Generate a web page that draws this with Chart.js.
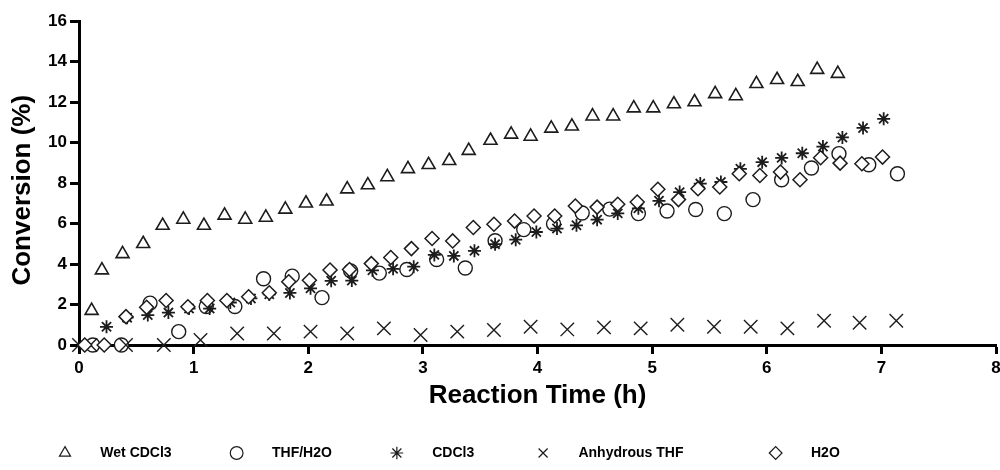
<!DOCTYPE html>
<html>
<head>
<meta charset="utf-8">
<script src="https://cdn.jsdelivr.net/npm/chart.js@4.4.0/dist/chart.umd.min.js"></script>
<style>
    html, body { margin: 0; padding: 0; background: #fff; }
    #wrap { width: 1000px; height: 470px; }
</style>
</head>
<body>
<div id="wrap"><canvas id="conversionChart"></canvas></div>
<script>
// series names (legend order)
const seriesNames = ['Wet CDCl3', 'THF/H2O', 'CDCl3', 'Anhydrous THF', 'H2O'];

// Wet CDCl3
const wetTime = [0.11, 0.20, 0.38, 0.56, 0.73, 0.91, 1.09, 1.27, 1.45, 1.63, 1.80, 1.98, 2.16, 2.34, 2.52, 2.69, 2.87, 3.05, 3.23, 3.40,
                 3.59, 3.77, 3.94, 4.12, 4.30, 4.48, 4.66, 4.84, 5.01, 5.19, 5.37, 5.55, 5.73, 5.91, 6.09, 6.27, 6.44, 6.62];
const wetConv = [1.7, 3.7, 4.5, 5.0, 5.9, 6.2, 5.9, 6.4, 6.2, 6.3, 6.7, 7.0, 7.1, 7.7, 7.9, 8.3, 8.7, 8.9, 9.1, 9.6,
                 10.1, 10.4, 10.3, 10.7, 10.8, 11.3, 11.3, 11.7, 11.7, 11.9, 12.0, 12.4, 12.3, 12.9, 13.1, 13.0, 13.6, 13.4];

// THF/H2O
const thfTime = [0.12, 0.37, 0.62, 0.87, 1.11, 1.36, 1.61, 1.86, 2.12, 2.37, 2.62, 2.86, 3.12, 3.37, 3.63, 3.88, 4.14, 4.39, 4.63, 4.88,
                 5.13, 5.38, 5.63, 5.88, 6.13, 6.39, 6.63, 6.89, 7.14];
const thfConv = [0, 0, 2.07, 0.66, 1.9, 1.9, 3.27, 3.4, 2.34, 3.66, 3.55, 3.73, 4.22, 3.8, 5.15, 5.7, 5.98, 6.52, 6.71, 6.49,
                 6.62, 6.69, 6.49, 7.18, 8.16, 8.74, 9.45, 8.9, 8.46];

// CDCl3
const cdclTime = [0.24, 0.42, 0.60, 0.78, 0.96, 1.14, 1.32, 1.50, 1.66, 1.84, 2.02, 2.20, 2.38, 2.56, 2.74, 2.92, 3.10, 3.27, 3.45, 3.63,
                  3.81, 3.99, 4.17, 4.34, 4.52, 4.70, 4.88, 5.06, 5.24, 5.42, 5.60, 5.77, 5.96, 6.13, 6.31, 6.49, 6.66, 6.84, 7.02];
const cdclConv = [0.9, 1.35, 1.48, 1.6, 1.8, 1.8, 2.1, 2.3, 2.5, 2.57, 2.8, 3.17, 3.18, 3.69, 3.76, 3.87, 4.45, 4.4, 4.65, 4.98,
                  5.2, 5.58, 5.75, 5.91, 6.19, 6.5, 6.75, 7.12, 7.55, 7.97, 8.05, 8.7, 9.03, 9.24, 9.47, 9.8, 10.25, 10.72, 11.17];

// Anhydrous THF
const anhTime = [0, 0.10, 0.41, 0.74, 1.06, 1.38, 1.70, 2.02, 2.34, 2.66, 2.98, 3.30, 3.62, 3.94, 4.26, 4.58, 4.90, 5.22, 5.54, 5.86,
                 6.18, 6.50, 6.81, 7.13];
const anhConv = [0, 0, 0, 0, 0.25, 0.57, 0.57, 0.66, 0.57, 0.82, 0.49, 0.66, 0.74, 0.9, 0.77, 0.87, 0.82, 1.0, 0.9, 0.9,
                 0.82, 1.2, 1.1, 1.2];

// H2O
const h2oTime = [0.05, 0.22, 0.41, 0.59, 0.76, 0.95, 1.12, 1.29, 1.48, 1.66, 1.83, 2.01, 2.19, 2.36, 2.55, 2.72, 2.90, 3.08, 3.26, 3.44,
                 3.62, 3.80, 3.97, 4.15, 4.33, 4.52, 4.70, 4.87, 5.05, 5.23, 5.40, 5.59, 5.76, 5.94, 6.12, 6.29, 6.47, 6.64, 6.83, 7.01];
const h2oConv = [0, 0, 1.4, 1.86, 2.2, 1.89, 2.2, 2.2, 2.38, 2.58, 3.12, 3.2, 3.7, 3.73, 4.02, 4.32, 4.76, 5.26, 5.14, 5.8,
                 5.96, 6.12, 6.37, 6.37, 6.86, 6.81, 6.95, 7.06, 7.69, 7.18, 7.72, 7.8, 8.46, 8.37, 8.54, 8.16, 9.25, 8.98, 8.95, 9.28];

// tick labels
const xTickValues = [0, 1, 2, 3, 4, 5, 6, 7, 8];
const yTickValues = [0, 2, 4, 6, 8, 10, 12, 14, 16];

const ink = '#1c1c1c';
const fontFamily = "'Liberation Sans', Arial, Helvetica, sans-serif";

function toPoints(times, values) {
    return times.map((t, i) => ({ x: t, y: values[i] }));
}

function markerSet(label, data, style, radius, width, order) {
    return {
        label: label,
        data: data,
        pointStyle: style,
        pointRadius: radius,
        pointHoverRadius: radius,
        pointBorderWidth: width,
        borderColor: ink,
        backgroundColor: '#ffffff',
        pointBorderColor: ink,
        pointBackgroundColor: '#ffffff',
        showLine: false,
        clip: false,
        order: order
    };
}

// legend spacing (gap between marker and text, extra gap after some items)
const legendLead = '      ';
const legendTail = { 2: ' ', 3: '       ' };

Chart.defaults.font.family = fontFamily;
Chart.defaults.color = '#000';

const ctx = document.getElementById('conversionChart').getContext('2d');
new Chart(ctx, {
    type: 'scatter',
    data: {
        datasets: [
            markerSet(seriesNames[0], toPoints(wetTime, wetConv), 'triangle', 7.5, 1.6, 2),
            markerSet(seriesNames[1], toPoints(thfTime, thfConv), 'circle', 7, 1.4, 4),
            markerSet(seriesNames[2], toPoints(cdclTime, cdclConv), 'star', 6.5, 1.8, 1),
            markerSet(seriesNames[3], toPoints(anhTime, anhConv), 'crossRot', 9.5, 1.4, 3),
            markerSet(seriesNames[4], toPoints(h2oTime, h2oConv), 'rectRot', 7, 1.5, 0)
        ]
    },
    options: {
        responsive: true,
        maintainAspectRatio: false,
        animation: false,
        layout: {
            autoPadding: false,
            padding: { left: 0, right: 0, top: 21, bottom: 0 }
        },
        plugins: {
            tooltip: { enabled: false },
            legend: {
                display: true,
                position: 'bottom',
                align: 'start',
                labels: {
                    usePointStyle: true,
                    boxWidth: 10,
                    boxHeight: 9,
                    padding: 60,
                    color: '#000',
                    font: { size: 14, weight: 'bold' },
                    sort: (a, b) => a.datasetIndex - b.datasetIndex,
                    generateLabels: function(chart) {
                        const items = Chart.defaults.plugins.legend.labels.generateLabels(chart);
                        return items.map(item => {
                            item.text = legendLead + item.text + (legendTail[item.datasetIndex] || '');
                            item.lineWidth = 1.2;
                            return item;
                        });
                    }
                }
            }
        },
        scales: {
            x: {
                type: 'linear',
                min: 0,
                max: 8,
                afterBuildTicks: scale => { scale.ticks = xTickValues.map(v => ({ value: v })); },
                afterFit: scale => {
                    scale.height = 41;
                    scale.paddingRight = 4;
                },
                border: { display: true, color: '#000', width: 3 },
                grid: { display: true, drawOnChartArea: false, drawTicks: true, tickLength: 9, tickWidth: 3, tickColor: '#000' },
                ticks: { color: '#000', padding: 4, maxRotation: 0, font: { size: 17, weight: 'bold' } },
                title: {
                    display: true,
                    text: 'Reaction Time (h)',
                    color: '#000',
                    font: { size: 26, weight: 'bold' },
                    padding: { top: 0, bottom: -25.5 }
                }
            },
            y: {
                type: 'linear',
                min: 0,
                max: 16,
                afterBuildTicks: scale => { scale.ticks = yTickValues.map(v => ({ value: v })); },
                afterFit: scale => { scale.width = 79; },
                border: { display: true, color: '#000', width: 3 },
                grid: { display: true, drawOnChartArea: false, drawTicks: true, tickLength: 9, tickWidth: 3, tickColor: '#000' },
                ticks: { color: '#000', padding: 3, font: { size: 17, weight: 'bold' } },
                title: {
                    display: true,
                    text: 'Conversion (%)  ',
                    color: '#000',
                    font: { size: 26, weight: 'bold' },
                    padding: { top: 7.6, bottom: 0 }
                }
            }
        }
    }
});
</script>
</body>
</html>
